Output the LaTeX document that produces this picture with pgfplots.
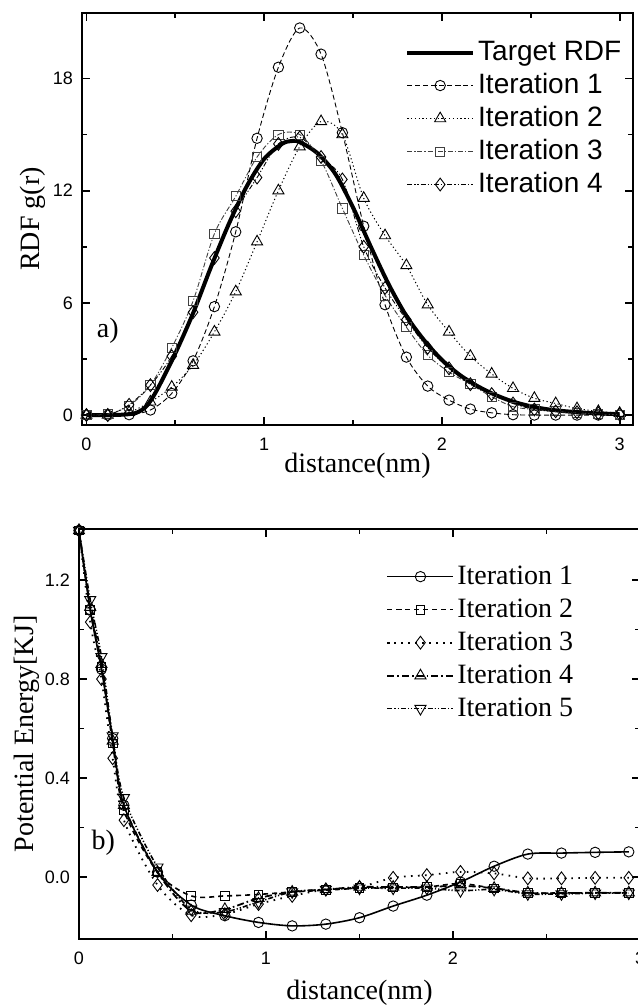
\documentclass[border=0pt]{standalone}
\usepackage{pgfplots}
\pgfplotsset{compat=1.18}
\usepackage{fontspec}
\setmainfont{Liberation Serif}
\newfontfamily\arial{Liberation Sans}

\pgfplotsset{
  common/.style={
    scale only axis,
    axis line style={line width=1pt},
    tick align=inside,
    tick style={line width=0.9pt,black},
    major tick length=4pt,
    minor tick length=2.5pt,
    /pgf/number format/assume math mode=true,
    ticklabel style={font=\arial\fontsize{9}{10}\selectfont},
    xticklabel style={yshift=-3pt},
    yticklabel style={xshift=-1pt},
    label style={font=\fontsize{14}{17}\selectfont},
    legend cell align=left,
    legend image code/.code={\draw[mark repeat=2,mark phase=2,#1] plot coordinates {(0pt,0pt) (16.5pt,0pt) (33pt,0pt)};},
    legend style={draw=none,fill=none,inner sep=0pt,row sep=0pt,
      nodes={inner sep=1.5pt,text height=10.5pt,text depth=3pt,anchor=west}},
  },
  omk/.style={mark options={solid,fill=white,line width=0.45pt}},
}

\begin{document}
\begin{tikzpicture}
\path[use as bounding box] (0pt,0pt) rectangle (318.5pt,503pt);

% ---------------- panel a ----------------
\begin{axis}[common,
  at={(41pt,290.5pt)}, anchor=south west,
  width=275.5pt, height=206pt,
  xmin=-0.025, xmax=3.075, ymin=-0.53, ymax=21.5,
  xtick={0,1,2,3}, minor x tick num=1,
  ytick={0,6,12,18}, minor y tick num=1,
  xlabel={distance(nm)},
  ylabel={RDF g(r)},
  xlabel style={at={(axis description cs:0.5,0)},anchor=north,yshift=-10.5pt},
  ylabel style={at={(axis description cs:0,0.5)},anchor=south,yshift=14.5pt},
  legend style={at={(axis description cs:0.985,0.945)},anchor=north east,
    font=\arial\fontsize{14}{17}\selectfont},
]
\addplot[black,line width=2pt,smooth] coordinates {
(0,0) (0.1,0) (0.2,0.02) (0.28,0.12) (0.34,0.5) (0.4,1.4) (0.5,3.3) (0.6,5.45)
(0.7,7.9) (0.8,10.2) (0.9,12.2) (1.0,13.7) (1.1,14.5) (1.15,14.65) (1.2,14.6)
(1.3,14.0) (1.4,12.9) (1.5,11.1) (1.6,9.0) (1.7,7.0) (1.8,5.3) (1.9,4.0)
(2.0,2.95) (2.1,2.15) (2.2,1.55) (2.3,1.08) (2.4,0.72) (2.5,0.47) (2.6,0.3)
(2.7,0.2) (2.8,0.13) (2.9,0.08) (3.0,0.05)};
\addlegendentry{Target RDF}
\addplot[black,line width=0.45pt,dash pattern=on 2.5pt off 1.5pt,smooth,mark=o,mark size=2.6pt,omk] coordinates {
(0,0) (0.12,0) (0.24,0.02) (0.36,0.27) (0.48,1.16) (0.6,2.9) (0.72,5.8) (0.84,9.8)
(0.96,14.8) (1.08,18.6) (1.2,20.7) (1.32,19.3) (1.44,15.1) (1.56,10.1) (1.68,5.9)
(1.8,3.1) (1.92,1.55) (2.04,0.8) (2.16,0.32) (2.28,0.12) (2.4,0.02) (2.52,0)
(2.64,0) (2.76,0) (2.88,0) (3.0,0)};
\addlegendentry{Iteration 1}
\addplot[black,line width=0.5pt,dash pattern=on 0.6pt off 1.3pt,smooth,mark=triangle,mark size=3.2pt,omk] coordinates {
(0,0) (0.12,0) (0.24,0.15) (0.36,0.71) (0.48,1.5) (0.6,2.67) (0.72,4.45) (0.84,6.6)
(0.96,9.27) (1.08,12.0) (1.2,14.35) (1.32,15.7) (1.44,15.0) (1.56,11.6) (1.68,9.6)
(1.8,8.0) (1.92,5.9) (2.04,4.45) (2.16,3.15) (2.28,2.2) (2.4,1.43) (2.52,0.9)
(2.64,0.62) (2.76,0.35) (2.88,0.2) (3.0,0.1)};
\addlegendentry{Iteration 2}
\addplot[black!75,line width=0.45pt,dash pattern=on 2.5pt off 1pt on 0.6pt off 1pt,smooth,mark=square,mark size=2.3pt,omk] coordinates {
(0,0) (0.12,0.05) (0.24,0.5) (0.36,1.6) (0.48,3.6) (0.6,6.1) (0.72,9.7) (0.84,11.7)
(0.96,13.8) (1.08,15.0) (1.2,15.0) (1.32,13.6) (1.44,11.05) (1.56,8.55) (1.68,6.4)
(1.8,4.7) (1.92,3.2) (2.04,2.3) (2.16,1.65) (2.28,0.98) (2.4,0.45) (2.52,0.3)
(2.64,0.2) (2.76,0.12) (2.88,0.06) (3.0,0.02)};
\addlegendentry{Iteration 3}
\addplot[black,line width=0.45pt,dash pattern=on 2.5pt off 1pt on 0.6pt off 1pt on 0.6pt off 1pt,smooth,mark=diamond,mark size=3.2pt,omk] coordinates {
(0,0) (0.12,0) (0.24,0.55) (0.36,1.6) (0.48,3.15) (0.6,5.5) (0.72,8.4) (0.84,10.9)
(0.96,12.7) (1.08,14.5) (1.2,14.85) (1.32,13.8) (1.44,12.6) (1.56,9.0) (1.68,6.8)
(1.8,5.1) (1.92,3.6) (2.04,2.5) (2.16,1.65) (2.28,1.12) (2.4,0.62) (2.52,0.3)
(2.64,0.2) (2.76,0.15) (2.88,0.1) (3.0,0.05)};
\addlegendentry{Iteration 4}
\node[font=\fontsize{14}{17}\selectfont] at (axis cs:0.12,4.5) {a)};
\end{axis}

% ---------------- panel b ----------------
\begin{axis}[common,
  at={(39.5pt,33.5pt)}, anchor=south west,
  width=280.5pt, height=205pt,
  xmin=0, xmax=3, ymin=-0.25, ymax=1.406,
  xtick={0,1,2,3}, minor x tick num=1,
  ytick={0,0.4,0.8,1.2}, minor y tick num=1,
  yticklabel style={/pgf/number format/fixed,/pgf/number format/fixed zerofill,/pgf/number format/precision=1},
  xlabel={distance(nm)},
  ylabel={Potential Energy[KJ]},
  xlabel style={at={(axis description cs:0.5,0)},anchor=north,yshift=-17pt},
  ylabel style={at={(axis description cs:0,0.5)},anchor=south,yshift=16pt},
  legend style={at={(axis description cs:0.887,0.925)},anchor=north east,
    font=\fontsize{14}{17}\selectfont},
]
\addplot[black,line width=0.8pt,smooth,mark=o,mark size=2.6pt,omk] coordinates {
(0,1.40) (0.06,1.08) (0.12,0.84) (0.18,0.56) (0.24,0.29) (0.42,0.02) (0.6,-0.113)
(0.78,-0.156) (0.96,-0.183) (1.14,-0.197) (1.32,-0.19) (1.5,-0.164) (1.68,-0.117)
(1.86,-0.073) (2.04,-0.02) (2.22,0.044) (2.4,0.093) (2.58,0.097) (2.76,0.1) (2.94,0.102)};
\addlegendentry{Iteration 1}
\addplot[black,line width=0.8pt,dash pattern=on 2.5pt off 2pt,smooth,mark=square,mark size=2.2pt,omk] coordinates {
(0,1.40) (0.06,1.08) (0.12,0.85) (0.18,0.54) (0.24,0.27) (0.42,0.02) (0.6,-0.076)
(0.78,-0.076) (0.96,-0.07) (1.14,-0.06) (1.32,-0.053) (1.5,-0.045) (1.68,-0.042)
(1.86,-0.04) (2.04,-0.026) (2.22,-0.046) (2.4,-0.064) (2.58,-0.064) (2.76,-0.064) (2.94,-0.064)};
\addlegendentry{Iteration 2}
\addplot[black,line width=0.9pt,dash pattern=on 0.8pt off 2.7pt,smooth,mark=diamond,mark size=3.2pt,omk] coordinates {
(0,1.40) (0.06,1.03) (0.12,0.8) (0.18,0.48) (0.24,0.23) (0.42,-0.032) (0.6,-0.154)
(0.78,-0.15) (0.96,-0.109) (1.14,-0.076) (1.32,-0.05) (1.5,-0.04) (1.68,-0.003)
(1.86,0.008) (2.04,0.021) (2.22,0.015) (2.4,-0.005) (2.58,-0.005) (2.76,-0.003) (2.94,-0.003)};
\addlegendentry{Iteration 3}
\addplot[black,line width=0.9pt,dash pattern=on 3.5pt off 1.5pt on 0.8pt off 1.5pt,smooth,mark=triangle,mark size=3.2pt,omk] coordinates {
(0,1.40) (0.06,1.09) (0.12,0.86) (0.18,0.55) (0.24,0.29) (0.42,0.02) (0.6,-0.137)
(0.78,-0.13) (0.96,-0.085) (1.14,-0.06) (1.32,-0.05) (1.5,-0.04) (1.68,-0.04)
(1.86,-0.04) (2.04,-0.035) (2.22,-0.045) (2.4,-0.063) (2.58,-0.065) (2.76,-0.063) (2.94,-0.063)};
\addlegendentry{Iteration 4}
\addplot[black,line width=0.8pt,dash pattern=on 2.5pt off 1pt on 0.6pt off 1pt on 0.6pt off 1pt,smooth,mark=triangle,mark size=3.2pt,mark options={solid,fill=white,line width=0.45pt,rotate=180}] coordinates {
(0,1.40) (0.06,1.12) (0.12,0.89) (0.18,0.57) (0.24,0.32) (0.42,0.04) (0.6,-0.13)
(0.78,-0.14) (0.96,-0.1) (1.14,-0.06) (1.32,-0.05) (1.5,-0.045) (1.68,-0.045)
(1.86,-0.045) (2.04,-0.055) (2.22,-0.05) (2.4,-0.068) (2.58,-0.068) (2.76,-0.065) (2.94,-0.065)};
\addlegendentry{Iteration 5}
\node[font=\fontsize{14}{17}\selectfont] at (axis cs:0.13,0.14) {b)};
\end{axis}
\end{tikzpicture}
\end{document}
